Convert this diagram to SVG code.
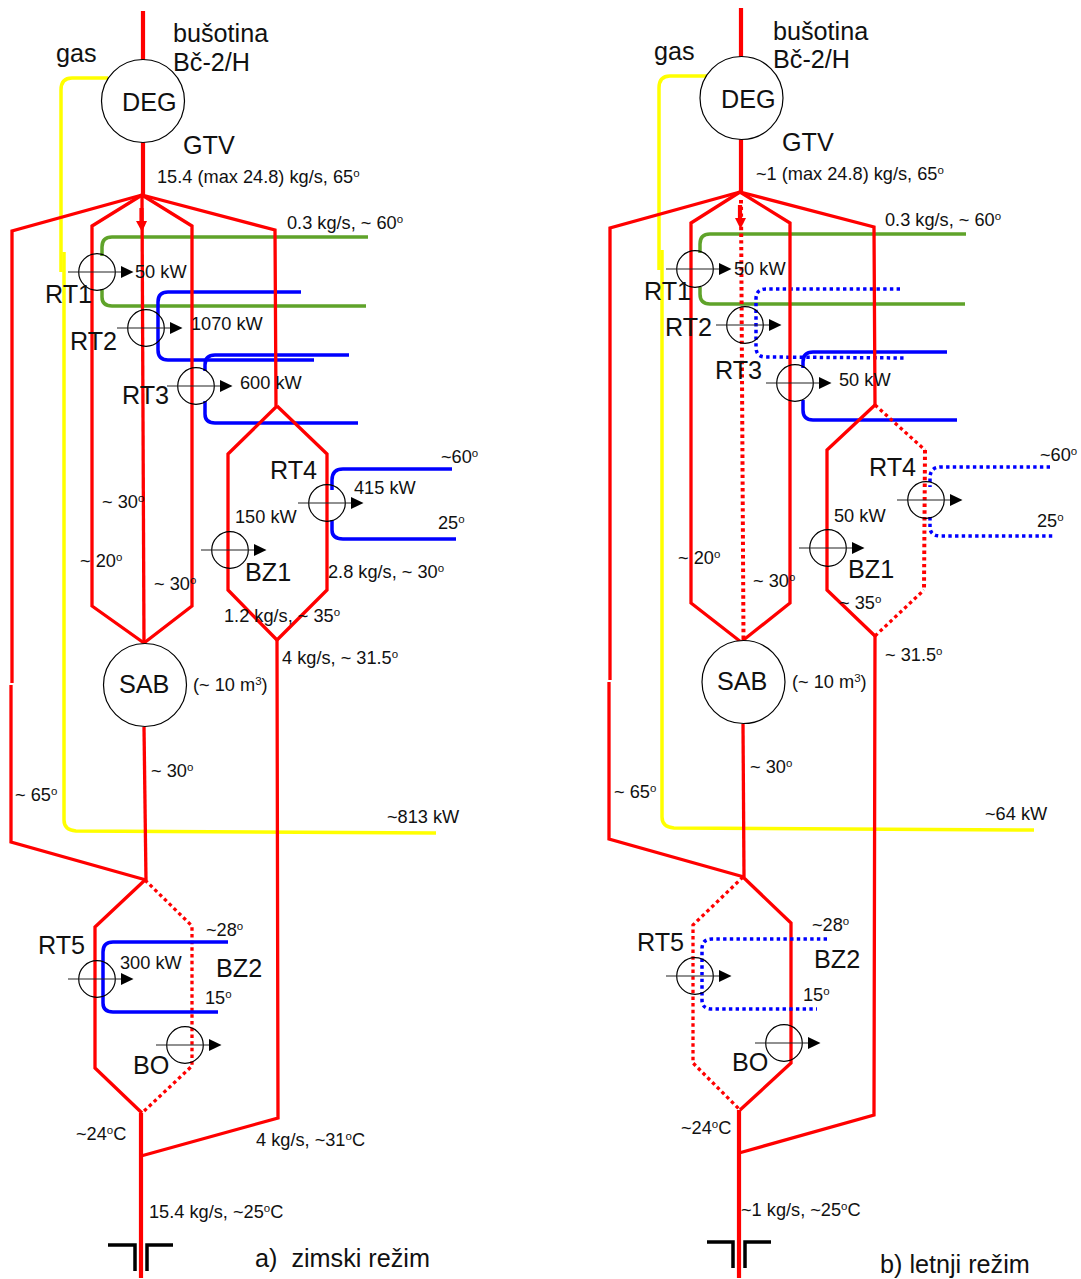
<svg xmlns="http://www.w3.org/2000/svg" width="1081" height="1279" viewBox="0 0 1081 1279">
<style>
text{font-family:"Liberation Sans",Arial,sans-serif;fill:#111}
.l{font-size:25.200px}
.s{font-size:18.200px}
.u{font-size:11.500px}
path{fill:none;stroke-linejoin:miter}
.r{stroke:#f00;stroke-width:3.300}
.rt{stroke:#f00;stroke-width:4.200}
.rd{stroke:#f00;stroke-width:3.300;stroke-dasharray:3.500 3.200}
.rc{stroke:#f00;stroke-width:4;stroke-dasharray:3.400 3.300}
.y{stroke:#ff0;stroke-width:3.500}
.g{stroke:#5fa32a;stroke-width:3.500}
.b{stroke:#00f;stroke-width:3.500}
.bd{stroke:#00f;stroke-width:3.500;stroke-dasharray:3.400 3.300}
.k{stroke:#000;stroke-width:3.500}
.hx circle{fill:none;stroke:#000;stroke-width:1.200}
.hx path{stroke:#222;stroke-width:1.200}
.hx polygon{fill:#000}
.v circle{fill:#fff;stroke:#000;stroke-width:1.200}
</style>
<defs>
<g id="hx" class="hx"><circle r="18.300"/><path d="M-29 0H25"/><polygon points="24,-6 36.500,0 24,6"/></g>
</defs>

<g id="connectors">
<!-- panel a -->
<path class="y" d="M108 78H72Q61 78 61 90V272"/>
<path class="y" d="M64 252V820Q64 830 76 831L436 833"/>
<path class="g" d="M368 237H112Q102 237 102 247V256M102 289V297Q102 306 112 306H366"/>
<path class="b" d="M301 292H168Q158 292 158 302V350Q158 360 168 360H314"/>
<path class="b" d="M349 355H215Q205 355 205 365V371M205 401V414Q205 423 215 423H358"/>
<path class="r" d="M142 195L12 231V683M11 685V842L146 880"/>
<path class="r" d="M142 195L92 226V606L144 643L192 606V226L142 195"/>
<path class="r" d="M142 195L275 230L276 406"/>
<path class="r" d="M142 195L144 643"/>
<path class="rt" d="M143 11V61M143 142V196"/>
<path class="rt" d="M141.500 208V224"/>
<polygon points="136,221 147,221 142,232" fill="#f00"/>
<path class="r" d="M277 406L228 454V590L277 640M277 406L327 454V590L277 640"/>
<path class="r" d="M277 640L278 1118L141 1156"/>
<path class="b" d="M452 469H343Q332 469 332 480V490M332 520V530Q332 539 343 539H456"/>
<path class="r" d="M144 727L146 880"/>
<path class="r" d="M145 880L95 927V1068L142 1113"/>
<path class="rd" d="M145 880L192 926V1066L142 1113"/>
<path class="b" d="M228 942H113Q103 942 103 952V1003Q103 1012 113 1012H218"/>
<path class="rt" d="M141 1113V1278"/>
<path class="k" d="M108 1245H135V1271M173 1245H147V1271"/>
<!-- panel b -->
<path class="y" d="M707 76H670Q659 76 659 88V270"/>
<path class="y" d="M662 250V817Q662 827 674 828L1034 830"/>
<path class="g" d="M966 234H710Q700 234 700 244V253M700 287V294Q700 304 710 304H965"/>
<path class="bd" d="M900 289H766Q756 289 756 299V347Q756 357 766 357L905 358"/>
<path class="b" d="M947 352H813Q803 352 803 362V368M803 400V410Q803 420 813 420H957"/>
<path class="r" d="M740 192L610 228V680M609 682V839L744 877"/>
<path class="r" d="M740 192L691 223V603L741 642L790 603V223L740 192"/>
<path class="r" d="M740 192L874 227L875 405"/>
<path class="rc" d="M741 200L743.500 640"/>
<path class="rt" d="M741 8V58M741 139V193"/>
<path class="rt" d="M740 205V220"/>
<polygon points="735,218 746,218 740.500,229" fill="#f00"/>
<path class="r" d="M875 405L827 450V590L875 636"/>
<path class="rd" d="M875 405L925 450M875 636L924 590"/>
<path class="rc" d="M925 450L924 590"/>
<path class="r" d="M875 636L874 1115L739 1153"/>
<path class="bd" d="M1050 467H941Q930 467 930 478V487M930 517V527Q930 536 941 536H1055"/>
<path class="r" d="M743 724L744 877"/>
<path class="r" d="M743 877L791 923V1063L740 1110"/>
<path class="rd" d="M743 877L693 925V1063L740 1110"/>
<path class="bd" d="M827 939H712Q702 939 702 949V1000Q702 1009 712 1009H817"/>
<path class="rt" d="M739 1110V1278"/>
<path class="k" d="M707 1242H733V1268M771 1242H745V1268"/>
</g>

<g id="a-DEG" class="v"><circle cx="143" cy="101" r="41.500"/><text class="l" x="122" y="111">DEG</text></g>
<g id="a-SAB" class="v"><circle cx="145" cy="685" r="41.500"/><text class="l" x="119" y="693">SAB</text></g>
<g id="a-RT1"><use href="#hx" x="97" y="272"/><text class="l" x="45" y="303">RT1</text><text class="s" x="135" y="278">50 kW</text></g>
<g id="a-RT2"><use href="#hx" x="146" y="328"/><text class="l" x="70" y="350">RT2</text><text class="s" x="191" y="330">1070 kW</text></g>
<g id="a-RT3"><use href="#hx" x="196" y="386"/><text class="l" x="122" y="404">RT3</text><text class="s" x="240" y="389">600 kW</text></g>
<g id="a-RT4"><use href="#hx" x="327" y="503"/><text class="l" x="270" y="479">RT4</text><text class="s" x="354" y="494">415 kW</text></g>
<g id="a-BZ1"><use href="#hx" x="230" y="550"/><text class="l" x="245" y="581">BZ1</text><text class="s" x="235" y="523">150 kW</text></g>
<g id="a-RT5"><use href="#hx" x="97" y="979"/><text class="l" x="38" y="954">RT5</text><text class="s" x="120" y="969">300 kW</text></g>
<g id="a-BO"><use href="#hx" x="185" y="1045"/><text class="l" x="133" y="1074">BO</text></g>
<g id="a-labels">
<text class="l" x="173" y="42">bušotina</text>
<text class="l" x="173" y="71">Bč-2/H</text>
<text class="l" x="56" y="62">gas</text>
<text class="l" x="183" y="154">GTV</text>
<text class="s" x="157" y="183">15.4 (max 24.8) kg/s, 65<tspan class="u" dy="-6">o</tspan></text>
<text class="s" x="287" y="229">0.3 kg/s, ~ 60<tspan class="u" dy="-6">o</tspan></text>
<text class="s" x="441" y="463">~60<tspan class="u" dy="-6">o</tspan></text>
<text class="s" x="438" y="529">25<tspan class="u" dy="-6">o</tspan></text>
<text class="s" x="102" y="508">~ 30<tspan class="u" dy="-6">o</tspan></text>
<text class="s" x="80" y="567">~ 20<tspan class="u" dy="-6">o</tspan></text>
<text class="s" x="154" y="590">~ 30<tspan class="u" dy="-6">o</tspan></text>
<text class="s" x="328" y="578">2.8 kg/s, ~ 30<tspan class="u" dy="-6">o</tspan></text>
<text class="s" x="224" y="622">1.2 kg/s, ~ 35<tspan class="u" dy="-6">o</tspan></text>
<text class="s" x="282" y="664">4 kg/s, ~ 31.5<tspan class="u" dy="-6">o</tspan></text>
<text class="s" x="193" y="691">(~ 10 m<tspan class="u" dy="-6">3</tspan><tspan dy="6">)</tspan></text>
<text class="s" x="151" y="777">~ 30<tspan class="u" dy="-6">o</tspan></text>
<text class="s" x="15" y="801">~ 65<tspan class="u" dy="-6">o</tspan></text>
<text class="s" x="387" y="823">~813 kW</text>
<text class="s" x="206" y="936">~28<tspan class="u" dy="-6">o</tspan></text>
<text class="l" x="216" y="977">BZ2</text>
<text class="s" x="205" y="1004">15<tspan class="u" dy="-6">o</tspan></text>
<text class="s" x="76" y="1140">~24<tspan class="u" dy="-6">o</tspan><tspan dy="6">C</tspan></text>
<text class="s" x="256" y="1146">4 kg/s, ~31<tspan class="u" dy="-6">o</tspan><tspan dy="6">C</tspan></text>
<text class="s" x="149" y="1218">15.4 kg/s, ~25<tspan class="u" dy="-6">o</tspan><tspan dy="6">C</tspan></text>
<text class="l" x="255" y="1267" xml:space="preserve">a)  zimski režim</text>
</g>

<g id="b-DEG" class="v"><circle cx="741.500" cy="98" r="41.500"/><text class="l" x="721" y="108">DEG</text></g>
<g id="b-SAB" class="v"><circle cx="743.500" cy="682" r="41.500"/><text class="l" x="717" y="690">SAB</text></g>
<g id="b-RT1"><use href="#hx" x="695" y="269"/><text class="l" x="644" y="300">RT1</text><text class="s" x="734" y="275">50 kW</text></g>
<g id="b-RT2"><use href="#hx" x="745" y="325"/><text class="l" x="665" y="336">RT2</text></g>
<g id="b-RT3"><use href="#hx" x="795" y="383"/><text class="l" x="715" y="379">RT3</text><text class="s" x="839" y="386">50 kW</text></g>
<g id="b-RT4"><use href="#hx" x="926" y="500"/><text class="l" x="869" y="476">RT4</text></g>
<g id="b-BZ1"><use href="#hx" x="828" y="548"/><text class="l" x="848" y="578">BZ1</text><text class="s" x="834" y="522">50 kW</text></g>
<g id="b-RT5"><use href="#hx" x="695" y="976"/><text class="l" x="637" y="951">RT5</text></g>
<g id="b-BO"><use href="#hx" x="784" y="1043"/><text class="l" x="732" y="1071">BO</text></g>
<g id="b-labels">
<text class="l" x="773" y="40">bušotina</text>
<text class="l" x="773" y="68">Bč-2/H</text>
<text class="l" x="654" y="60">gas</text>
<text class="l" x="782" y="151">GTV</text>
<text class="s" x="756" y="180">~1 (max 24.8) kg/s, 65<tspan class="u" dy="-6">o</tspan></text>
<text class="s" x="885" y="226">0.3 kg/s, ~ 60<tspan class="u" dy="-6">o</tspan></text>
<text class="s" x="1040" y="461">~60<tspan class="u" dy="-6">o</tspan></text>
<text class="s" x="1037" y="527">25<tspan class="u" dy="-6">o</tspan></text>
<text class="s" x="678" y="564">~ 20<tspan class="u" dy="-6">o</tspan></text>
<text class="s" x="753" y="587">~ 30<tspan class="u" dy="-6">o</tspan></text>
<text class="s" x="839" y="609">~ 35<tspan class="u" dy="-6">o</tspan></text>
<text class="s" x="885" y="661">~ 31.5<tspan class="u" dy="-6">o</tspan></text>
<text class="s" x="792" y="688">(~ 10 m<tspan class="u" dy="-6">3</tspan><tspan dy="6">)</tspan></text>
<text class="s" x="750" y="773">~ 30<tspan class="u" dy="-6">o</tspan></text>
<text class="s" x="614" y="798">~ 65<tspan class="u" dy="-6">o</tspan></text>
<text class="s" x="985" y="820">~64 kW</text>
<text class="s" x="812" y="931">~28<tspan class="u" dy="-6">o</tspan></text>
<text class="l" x="814" y="968">BZ2</text>
<text class="s" x="803" y="1001">15<tspan class="u" dy="-6">o</tspan></text>
<text class="s" x="681" y="1134">~24<tspan class="u" dy="-6">o</tspan><tspan dy="6">C</tspan></text>
<text class="s" x="741" y="1216">~1 kg/s, ~25<tspan class="u" dy="-6">o</tspan><tspan dy="6">C</tspan></text>
<text class="l" x="880" y="1273">b) letnji režim</text>
</g>
</svg>
